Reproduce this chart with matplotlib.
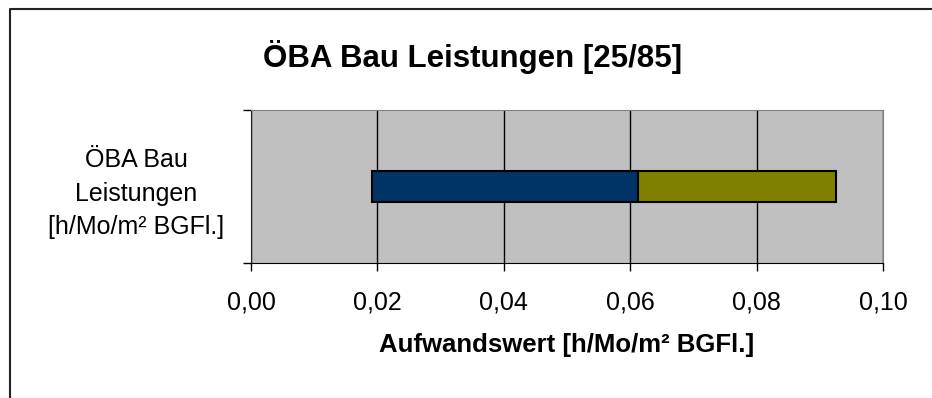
import matplotlib.pyplot as plt
from matplotlib.lines import Line2D
from matplotlib.ticker import FuncFormatter, FixedLocator

plt.rcParams['font.family'] = ['Liberation Sans', 'DejaVu Sans']

# Aufwandswerte (von / bis) je Leistung
kategorien = ["ÖBA Bau\nLeistungen\n[h/Mo/m² BGFl.]"]
wert_min = [0.0192]
wert_mitte = [0.0612]
wert_max = [0.0926]
x_ticks = [0.00, 0.02, 0.04, 0.06, 0.08, 0.10]

fig = plt.figure(figsize=(9.32, 3.98), dpi=100)
ax = fig.add_axes([251 / 932, 1 - 263 / 398, 632 / 932, 153 / 398])
ax.set_facecolor('#C0C0C0')

# gestapelte Balken: unsichtbarer Sockel, dann zwei sichtbare Abschnitte
ypos = [0]
unten = [wert_mitte[i] - wert_min[i] for i in range(len(ypos))]
oben = [wert_max[i] - wert_mitte[i] for i in range(len(ypos))]
ax.barh(ypos, wert_min, height=0.2, color='none', edgecolor='none')
ax.barh(ypos, unten, left=wert_min, height=0.2, color='#003366',
        edgecolor='black', linewidth=1.5, zorder=3)
ax.barh(ypos, oben, left=wert_mitte, height=0.2, color='#808000',
        edgecolor='black', linewidth=1.5, zorder=3)

ax.set_xlim(0, 0.10)
ax.set_ylim(-0.5, 0.5)
ax.set_xticks(x_ticks)
ax.xaxis.set_major_formatter(FuncFormatter(lambda v, p: f"{v:.2f}".replace('.', ',')))
ax.grid(axis='x', color='black', linewidth=1, zorder=1)
ax.set_axisbelow(True)

ax.yaxis.set_major_locator(FixedLocator([-0.5, 0.5]))
ax.yaxis.set_major_formatter(FuncFormatter(lambda v, p: ''))
ax.yaxis.set_minor_locator(FixedLocator(ypos))
ax.set_yticklabels(kategorien, minor=True, fontsize=18, multialignment='center',
                   linespacing=1.5)
ax.tick_params(axis='y', which='minor', length=0, pad=19)
ax.tick_params(axis='y', which='major', direction='out', length=6, width=1)
ax.tick_params(axis='x', direction='out', length=6, width=1, labelsize=18, pad=14)

for s in ['top', 'right']:
    ax.spines[s].set_color('#808080')
ax.spines['left'].set_color('#222222')
ax.spines['bottom'].set_color('black')

ax.set_xlabel("Aufwandswert [h/Mo/m² BGFl.]", fontsize=18.5, fontweight='bold')
ax.xaxis.label.set_va('center')
ax.xaxis.set_label_coords(0.5, (263 - 345) / 153)

fig.text(473 / 932, 1 - 57 / 398, "ÖBA Bau Leistungen [25/85]", fontsize=22.5,
         fontweight='bold', ha='center', va='center')

# Rahmen des Diagrammbereichs
fig.add_artist(Line2D([9.5 / 932, 9.5 / 932, 1], [0, 1 - 9 / 398, 1 - 9 / 398],
                      transform=fig.transFigure, color='#222222', linewidth=1.5))

fig.savefig('out.png', dpi=100)
